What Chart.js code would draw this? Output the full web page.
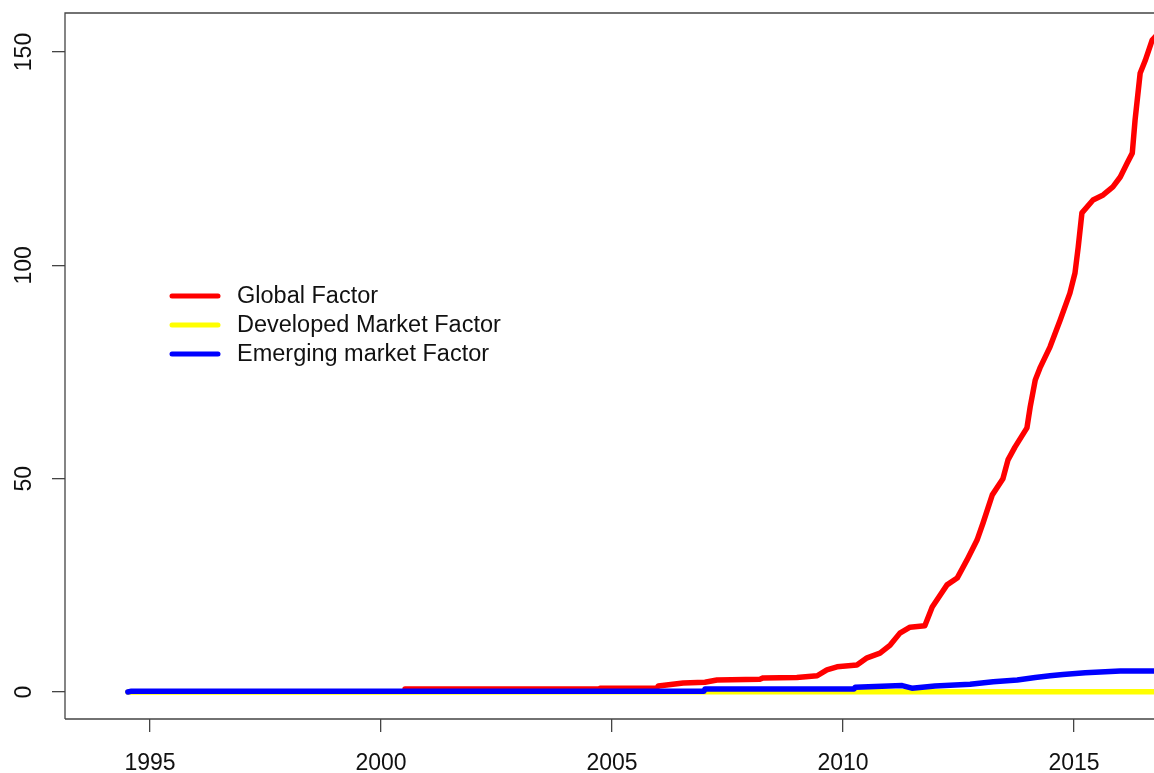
<!DOCTYPE html>
<html>
<head>
<meta charset="utf-8">
<script src="https://cdn.jsdelivr.net/npm/chart.js@4/dist/chart.umd.min.js"></script>
<style>
html,body{margin:0;padding:0;background:#fff;overflow:hidden;}
#wrap{width:1154px;height:773px;}
</style>
</head>
<body>
<div id="wrap"><canvas id="c" width="1154" height="773"></canvas></div>
<script>
// ---- data ----
const seriesLabels = ["Global Factor", "Developed Market Factor", "Emerging market Factor"];
const seriesColors = ["#ff0000", "#ffff00", "#0000ff"];

const globalYears  = [2000.52, 2004.72, 2004.74, 2005.97, 2006.0, 2006.54, 2007.01, 2007.27, 2008.2, 2008.27,
                      2009.0, 2009.44, 2009.65, 2009.87, 2010.3, 2010.52, 2010.8, 2011.02, 2011.23, 2011.45,
                      2011.77, 2011.93, 2012.1, 2012.25, 2012.47, 2012.68, 2012.9, 2013.03, 2013.23, 2013.46,
                      2013.57, 2013.72, 2013.98, 2014.05, 2014.16, 2014.26, 2014.48, 2014.7, 2014.91, 2015.02,
                      2015.09, 2015.17, 2015.41, 2015.63, 2015.84, 2016.0, 2016.15, 2016.26, 2016.32, 2016.43,
                      2016.54, 2016.69, 2016.75];
const globalValues = [0.7, 0.7, 0.9, 0.9, 1.4, 2.1, 2.3, 2.8, 3.0, 3.3,
                      3.4, 3.8, 5.2, 5.9, 6.3, 8.0, 9.1, 11.0, 13.8, 15.2,
                      15.5, 19.9, 22.7, 25.1, 26.7, 30.9, 35.6, 39.6, 46.2, 50.0,
                      54.4, 57.4, 61.9, 66.8, 73.1, 75.9, 80.9, 87.2, 93.5, 98.2,
                      104.3, 112.3, 115.3, 116.5, 118.4, 120.7, 124.0, 126.3, 134.0, 145.0,
                      148.0, 152.8, 153.5];

const developedYears  = [1994.52, 2000.0, 2005.0, 2010.0, 2016.75];
const developedValues = [0.0, 0.02, 0.03, 0.04, 0.05];

const emergingYears  = [1994.52, 1994.6, 2006.99, 2007.01, 2010.24, 2010.26, 2011.28, 2011.49, 2011.99, 2012.75,
                        2013.25, 2013.77, 2014.16, 2014.48, 2014.76, 2015.24, 2016.0, 2016.75];
const emergingValues = [0.0, 0.2, 0.2, 0.7, 0.7, 1.1, 1.5, 0.9, 1.4, 1.8,
                        2.4, 2.8, 3.4, 3.8, 4.1, 4.5, 4.9, 4.9];

const xTickValues = [1995, 2000, 2005, 2010, 2015];
const yTickValues = [0, 50, 100, 150];

// ---- build chart ----
function zip(xs, ys){ return xs.map((x,i)=>({x:x, y:ys[i]})); }

const TEXT = '#111111';
const LINE = '#444444';
const FONT = "'Liberation Sans', Arial, sans-serif";

const framePlugin = {
  id: 'frame',
  afterDraw(chart){
    const a = chart.chartArea, ctx = chart.ctx;
    ctx.save();
    ctx.strokeStyle = LINE; ctx.lineWidth = 1.3;
    ctx.beginPath();
    ctx.moveTo(a.left, a.bottom); ctx.lineTo(a.left, a.top); ctx.lineTo(a.right + 2, a.top);
    ctx.moveTo(a.left, a.bottom); ctx.lineTo(a.right + 2, a.bottom);
    ctx.stroke();
    ctx.restore();
  }
};

const legendPlugin = {
  id: 'innerLegend',
  afterDraw(chart){
    const ctx = chart.ctx;
    ctx.save();
    ctx.font = "23.5px " + FONT;
    ctx.textBaseline = 'middle';
    ctx.textAlign = 'left';
    const x0 = 172, x1 = 218, tx = 237, y0 = 296, dy = 29;
    chart.data.datasets.forEach((ds, i) => {
      const y = y0 + i * dy;
      ctx.strokeStyle = ds.borderColor; ctx.lineWidth = 5; ctx.lineCap = 'round';
      ctx.beginPath(); ctx.moveTo(x0, y); ctx.lineTo(x1, y); ctx.stroke();
      ctx.fillStyle = TEXT;
      ctx.fillText(ds.label, tx, y + 1);
    });
    ctx.restore();
  }
};

const datasets = [
  {label: seriesLabels[0], data: zip(globalYears, globalValues), borderColor: seriesColors[0], order: 2},
  {label: seriesLabels[1], data: zip(developedYears, developedValues), borderColor: seriesColors[1], order: 1},
  {label: seriesLabels[2], data: zip(emergingYears, emergingValues), borderColor: seriesColors[2], order: 0}
].map(d => Object.assign(d, {borderWidth: 5.5, pointRadius: 0, tension: 0, fill: false,
                                borderCapStyle: 'round', borderJoinStyle: 'round'}));

new Chart(document.getElementById('c'), {
  type: 'line',
  data: {datasets: datasets},
  options: {
    responsive: false,
    animation: false,
    events: [],
    layout: {padding: {top: 13, right: 0, left: 0, bottom: 0}},
    plugins: {legend: {display: false}, tooltip: {enabled: false}},
    scales: {
      x: {
        type: 'linear',
        min: 1993.16, max: 2016.73,
        afterBuildTicks: s => { s.ticks = xTickValues.map(v => ({value: v})); },
        afterFit: s => { s.height = 54; s.paddingLeft = 0; s.paddingRight = 0; },
        grid: {display: true, drawOnChartArea: false, drawTicks: true, tickLength: 13, color: LINE, lineWidth: 1.3},
        border: {display: false},
        ticks: {color: TEXT, font: {family: FONT, size: 23}, padding: 18, maxRotation: 0, autoSkip: false,
                callback: v => String(v)}
      },
      y: {
        type: 'linear',
        min: -6.33, max: 159.14,
        afterBuildTicks: s => { s.ticks = yTickValues.map(v => ({value: v})); },
        afterFit: s => { s.width = 65; s.paddingTop = 0; s.paddingBottom = 0; },
        grid: {display: true, drawOnChartArea: false, drawTicks: true, tickLength: 13, color: LINE, lineWidth: 1.3},
        border: {display: false},
        ticks: {color: TEXT, font: {family: FONT, size: 23}, padding: 8, minRotation: 90, maxRotation: 90,
                crossAlign: 'center', autoSkip: false, callback: v => String(v)}
      }
    }
  },
  plugins: [framePlugin, legendPlugin]
});
</script>
</body>
</html>
